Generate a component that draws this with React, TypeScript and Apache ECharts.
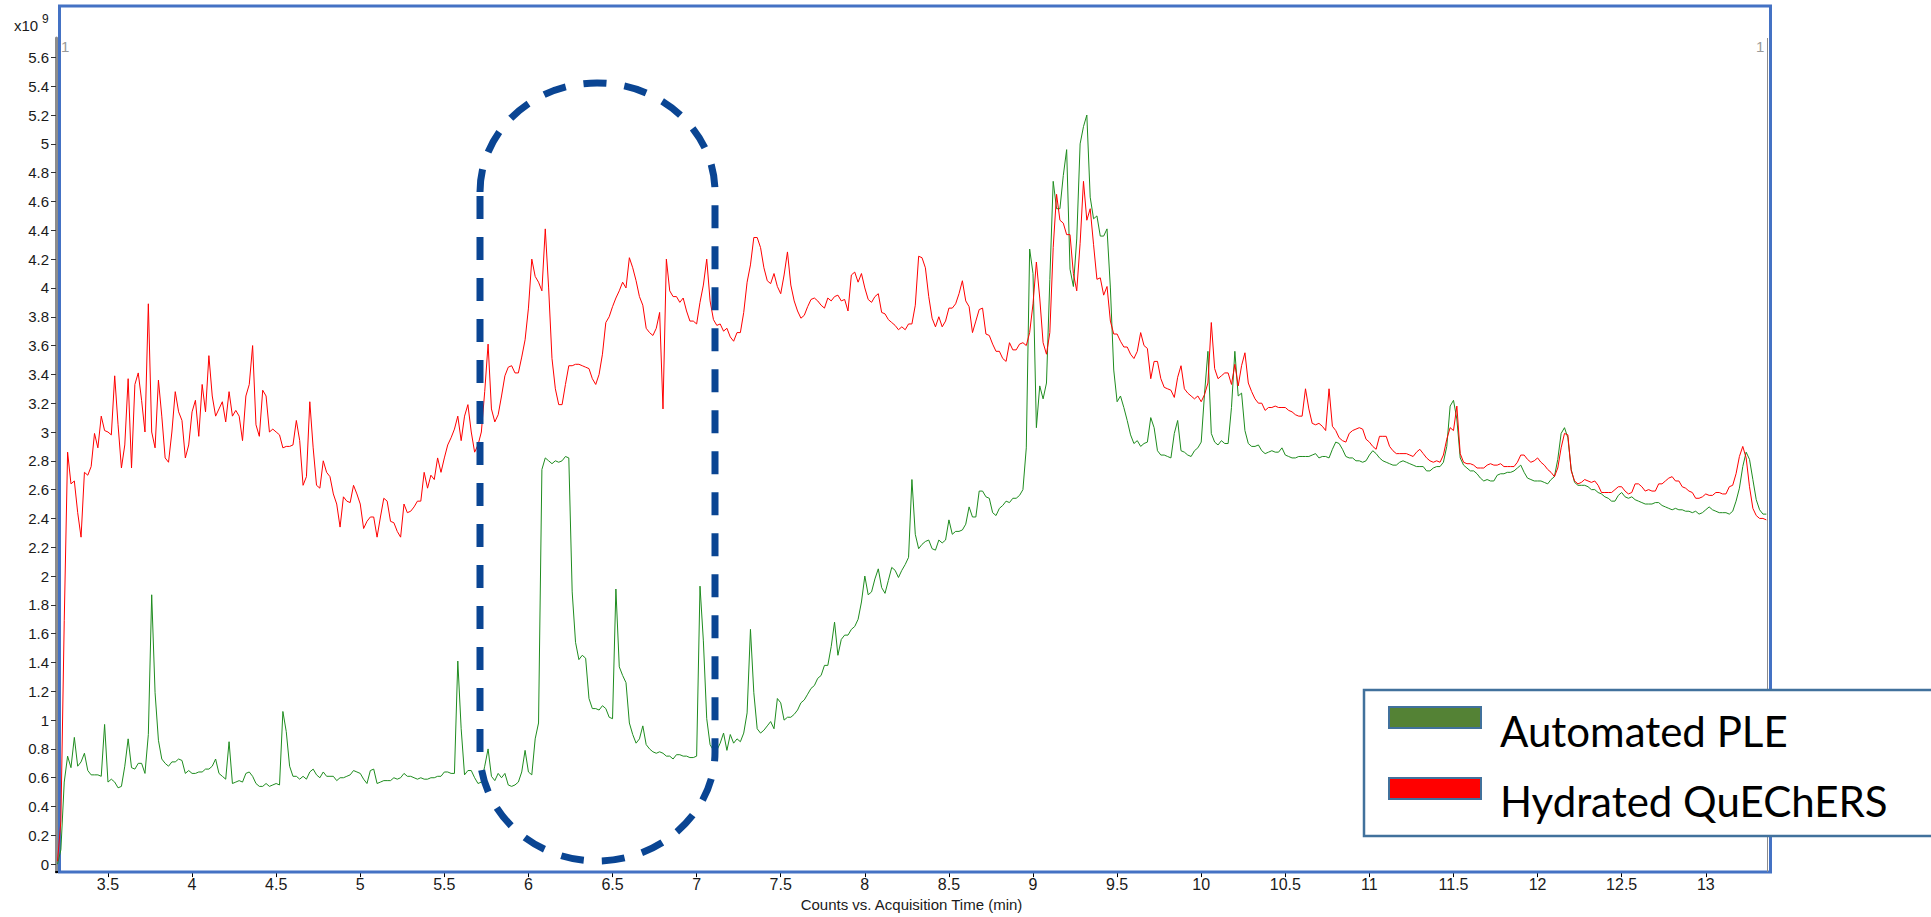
import React, { useEffect, useRef } from "react";
import * as echarts from "echarts";

// Sampling grid of the chromatogram (minutes)
const TIME_STEP = 0.02;
const SEGMENT_STARTS = [3.2, 5.8, 8.26, 10.82];

// Automated PLE (green), values in 10^9 counts
const pleA = [
  0.0, 0.1, 0.57, 0.75, 0.67, 0.88, 0.68, 0.71, 0.77, 0.65,
  0.62, 0.62, 0.62, 0.61, 0.97, 0.57, 0.59, 0.57, 0.53, 0.54,
  0.68, 0.87, 0.67, 0.66, 0.7, 0.7, 0.63, 0.9, 1.87, 1.19,
  0.86, 0.73, 0.7, 0.68, 0.71, 0.71, 0.73, 0.72, 0.63, 0.65,
  0.63, 0.63, 0.64, 0.64, 0.66, 0.66, 0.68, 0.73, 0.63, 0.61,
  0.59, 0.85, 0.56, 0.57, 0.58, 0.57, 0.63, 0.64, 0.61, 0.56,
  0.54, 0.54, 0.56, 0.54, 0.55, 0.56, 0.55, 1.06, 0.92, 0.68,
  0.61, 0.61, 0.59, 0.61, 0.59, 0.64, 0.66, 0.62, 0.6, 0.64,
  0.61, 0.61, 0.61, 0.58, 0.6, 0.6, 0.61, 0.62, 0.65, 0.64,
  0.63, 0.59, 0.56, 0.65, 0.66, 0.56, 0.57, 0.58, 0.58, 0.58,
  0.6, 0.59, 0.6, 0.63, 0.61, 0.61, 0.6, 0.59, 0.6, 0.59,
  0.59, 0.6, 0.6, 0.61, 0.61, 0.64, 0.64, 0.63, 0.63, 1.41,
  0.94, 0.62, 0.65, 0.65, 0.6, 0.56, 0.57, 0.68, 0.8, 0.61,
];
const pleB = [
  0.58, 0.63, 0.6, 0.63, 0.55, 0.54, 0.55, 0.57, 0.64, 0.79,
  0.64, 0.62, 0.87, 0.98, 2.74, 2.82, 2.8, 2.78, 2.8, 2.79,
  2.8, 2.83, 2.82, 1.89, 1.54, 1.42, 1.45, 1.43, 1.15, 1.08,
  1.08, 1.07, 1.1, 1.08, 1.02, 1.01, 1.91, 1.37, 1.31, 1.26,
  0.98, 0.9, 0.84, 0.87, 0.96, 0.83, 0.8, 0.78, 0.77, 0.78,
  0.77, 0.75, 0.75, 0.73, 0.76, 0.76, 0.75, 0.75, 0.74, 0.74,
  0.75, 1.93, 1.55, 1.01, 0.83, 0.79, 0.79, 0.84, 0.91, 0.79,
  0.9, 0.84, 0.87, 0.85, 0.91, 1.05, 1.63, 1.19, 0.94, 0.91,
  0.93, 0.96, 0.99, 0.94, 1.15, 1.12, 1.0, 1.02, 1.02, 1.04,
  1.07, 1.12, 1.14, 1.18, 1.22, 1.24, 1.29, 1.31, 1.38, 1.38,
  1.51, 1.68, 1.45, 1.56, 1.59, 1.59, 1.63, 1.65, 1.7, 1.82,
  2.0, 1.87, 1.89, 1.98, 2.05, 1.92, 1.88, 1.97, 2.06, 2.04,
  1.99, 2.04, 2.08,
];
const pleC = [
  2.13, 2.67, 2.29, 2.19, 2.22, 2.24, 2.25, 2.19, 2.18, 2.25,
  2.23, 2.25, 2.39, 2.29, 2.31, 2.31, 2.32, 2.36, 2.48, 2.41,
  2.41, 2.59, 2.59, 2.55, 2.54, 2.44, 2.42, 2.47, 2.49, 2.52,
  2.51, 2.54, 2.54, 2.56, 2.6, 2.89, 4.27, 4.1, 3.03, 3.32,
  3.23, 3.34, 4.06, 4.74, 4.55, 4.55, 4.78, 4.96, 4.13, 4.01,
  4.34, 5.0, 5.12, 5.2, 4.63, 4.48, 4.5, 4.36, 4.36, 4.41,
  4.0, 3.43, 3.21, 3.25, 3.17, 3.08, 2.98, 2.92, 2.94, 2.9,
  2.92, 2.93, 3.1, 3.03, 2.87, 2.84, 2.84, 2.83, 2.82, 2.99,
  3.08, 2.87, 2.86, 2.84, 2.83, 2.87, 2.89, 2.93, 3.27, 3.56,
  2.99, 2.93, 2.91, 2.94, 2.92, 2.92, 3.17, 3.56, 3.25, 3.27,
  3.01, 2.92, 2.9, 2.9, 2.91, 2.87, 2.85, 2.86, 2.87, 2.86,
  2.86, 2.89, 2.84, 2.83, 2.82, 2.82, 2.83, 2.83, 2.83, 2.83,
  2.84, 2.85, 2.82, 2.83, 2.83, 2.82, 2.88, 2.93,
];
const pleD = [
  2.92, 2.88, 2.83, 2.82, 2.82, 2.8, 2.8, 2.79, 2.8, 2.84,
  2.87, 2.85, 2.82, 2.8, 2.79, 2.78, 2.77, 2.77, 2.79, 2.8,
  2.79, 2.78, 2.77, 2.76, 2.76, 2.76, 2.73, 2.73, 2.75, 2.76,
  2.76, 2.79, 2.9, 3.18, 3.22, 3.09, 2.82, 2.77, 2.75, 2.73,
  2.73, 2.71, 2.68, 2.66, 2.67, 2.66, 2.66, 2.7, 2.71, 2.71,
  2.72, 2.72, 2.73, 2.75, 2.77, 2.72, 2.68, 2.67, 2.66, 2.66,
  2.66, 2.65, 2.64, 2.67, 2.69, 2.81, 2.99, 3.03, 2.96, 2.74,
  2.65, 2.63, 2.63, 2.63, 2.62, 2.6, 2.6, 2.58, 2.57, 2.55,
  2.54, 2.52, 2.52, 2.56, 2.58, 2.55, 2.54, 2.55, 2.53, 2.52,
  2.51, 2.5, 2.5, 2.5, 2.51, 2.51, 2.49, 2.48, 2.47, 2.46,
  2.47, 2.46, 2.46, 2.45, 2.45, 2.44, 2.45, 2.43, 2.44, 2.46,
  2.48, 2.46, 2.45, 2.44, 2.44, 2.44, 2.43, 2.45, 2.52, 2.61,
  2.76, 2.86, 2.81, 2.67, 2.53, 2.46, 2.43, 2.43,
];

// Hydrated QuEChERS (red), values in 10^9 counts
const quechersA = [
  0.02, 0.3, 1.69, 2.86, 2.64, 2.66, 2.44, 2.27, 2.72, 2.7,
  2.76, 2.99, 2.89, 3.11, 3.01, 3.0, 2.98, 3.39, 3.05, 2.75,
  2.91, 3.37, 2.75, 3.33, 3.41, 3.22, 3.0, 3.89, 3.0, 2.89,
  3.36, 3.11, 2.82, 2.79, 3.0, 3.28, 3.14, 3.08, 2.82, 2.91,
  3.14, 3.22, 2.97, 3.33, 3.14, 3.53, 3.25, 3.11, 3.16, 3.21,
  3.07, 3.28, 3.11, 3.15, 3.11, 2.94, 3.25, 3.33, 3.6, 3.05,
  2.97, 3.29, 3.25, 3.0, 3.02, 3.0, 2.98, 2.89, 2.9, 2.9,
  2.91, 3.08, 2.94, 2.63, 2.69, 3.21, 2.89, 2.63, 2.61, 2.8,
  2.72, 2.69, 2.57, 2.5, 2.34, 2.55, 2.52, 2.51, 2.63, 2.57,
  2.5, 2.33, 2.38, 2.41, 2.41, 2.27, 2.41, 2.54, 2.52, 2.38,
  2.37, 2.31, 2.27, 2.5, 2.44, 2.45, 2.48, 2.52, 2.52, 2.72,
  2.61, 2.7, 2.67, 2.82, 2.72, 2.82, 2.91, 2.96, 3.02, 3.11,
  2.94, 3.11, 3.19, 3.0, 2.86, 2.91, 3.0, 3.28, 3.61, 3.16,
];
const quechersB = [
  3.07, 3.12, 3.25, 3.39, 3.45, 3.46, 3.41, 3.41, 3.52, 3.64,
  3.86, 4.2, 4.08, 4.04, 3.98, 4.41, 4.0, 3.51, 3.3, 3.19,
  3.19, 3.33, 3.46, 3.46, 3.47, 3.47, 3.46, 3.45, 3.44, 3.37,
  3.33, 3.4, 3.54, 3.76, 3.8, 3.87, 3.93, 3.98, 4.04, 4.0,
  4.21, 4.14, 4.05, 3.94, 3.88, 3.72, 3.69, 3.67, 3.72, 3.83,
  3.16, 4.2, 3.98, 3.94, 3.94, 3.9, 3.93, 3.84, 3.77, 3.77,
  3.75, 3.9, 4.02, 4.2, 3.91, 3.78, 3.74, 3.75, 3.7, 3.72,
  3.66, 3.63, 3.69, 3.69, 3.83, 4.04, 4.16, 4.35, 4.35, 4.28,
  4.14, 4.05, 4.03, 4.1, 4.01, 3.96, 4.09, 4.25, 4.02, 3.91,
  3.84, 3.79, 3.81, 3.87, 3.92, 3.93, 3.91, 3.88, 3.86, 3.93,
  3.91, 3.94, 3.95, 3.91, 3.92, 3.84, 4.09, 4.11, 4.04, 4.1,
  4.0, 3.92, 3.9, 3.94, 3.96, 3.83, 3.82, 3.78, 3.76, 3.74,
  3.71, 3.73, 3.71,
];
const quechersC = [
  3.75, 3.75, 3.88, 4.22, 4.21, 4.14, 3.94, 3.79, 3.73, 3.8,
  3.73, 3.77, 3.86, 3.86, 3.89, 3.96, 4.05, 3.91, 3.87, 3.69,
  3.77, 3.85, 3.86, 3.68, 3.67, 3.61, 3.56, 3.56, 3.51, 3.49,
  3.62, 3.57, 3.57, 3.61, 3.62, 3.6, 3.69, 3.89, 4.18, 3.93,
  3.62, 3.54, 3.69, 4.28, 4.65, 4.47, 4.45, 4.37, 4.37, 4.1,
  3.98, 4.31, 4.74, 4.47, 4.55, 4.3, 4.06, 4.07, 3.95, 4.01,
  3.77, 3.68, 3.68, 3.63, 3.59, 3.59, 3.54, 3.51, 3.56, 3.69,
  3.6, 3.58, 3.37, 3.49, 3.49, 3.37, 3.31, 3.3, 3.29, 3.24,
  3.38, 3.46, 3.3, 3.27, 3.25, 3.23, 3.25, 3.21, 3.26, 3.34,
  3.76, 3.44, 3.37, 3.39, 3.41, 3.41, 3.33, 3.47, 3.32, 3.46,
  3.55, 3.34, 3.28, 3.23, 3.2, 3.2, 3.15, 3.17, 3.17, 3.18,
  3.17, 3.17, 3.17, 3.15, 3.14, 3.12, 3.11, 3.11, 3.3, 3.16,
  3.06, 3.05, 3.06, 3.04, 3.01, 3.3, 3.04, 3.01,
];
const quechersD = [
  2.96, 2.94, 2.93, 2.99, 3.01, 3.02, 3.03, 3.02, 2.95, 2.93,
  2.9, 2.88, 2.97, 2.97, 2.97, 2.9, 2.87, 2.85, 2.85, 2.85,
  2.85, 2.84, 2.83, 2.86, 2.88, 2.85, 2.82, 2.8, 2.79, 2.8,
  2.79, 2.84, 2.95, 3.03, 3.01, 3.18, 2.85, 2.79, 2.78, 2.78,
  2.77, 2.75, 2.75, 2.75, 2.77, 2.78, 2.77, 2.77, 2.78, 2.76,
  2.76, 2.76, 2.76, 2.79, 2.84, 2.84, 2.81, 2.79, 2.8, 2.82,
  2.79, 2.77, 2.74, 2.72, 2.69, 2.75, 2.89, 2.99, 2.98, 2.73,
  2.66, 2.64, 2.65, 2.67, 2.66, 2.65, 2.66, 2.63, 2.58, 2.58,
  2.58, 2.58, 2.6, 2.62, 2.62, 2.59, 2.57, 2.58, 2.64, 2.64,
  2.62, 2.59, 2.6, 2.59, 2.59, 2.64, 2.64, 2.66, 2.68, 2.69,
  2.66, 2.66, 2.62, 2.61, 2.59, 2.58, 2.54, 2.54, 2.55, 2.57,
  2.56, 2.56, 2.58, 2.58, 2.57, 2.57, 2.62, 2.63, 2.71, 2.83,
  2.9, 2.82, 2.62, 2.47, 2.42, 2.4, 2.4, 2.39,
];

const X_TICKS = [3.5, 4, 4.5, 5, 5.5, 6, 6.5, 7, 7.5, 8, 8.5, 9, 9.5, 10, 10.5, 11, 11.5, 12, 12.5, 13];
const Y_TICKS = [
  0, 0.2, 0.4, 0.6, 0.8, 1, 1.2, 1.4, 1.6, 1.8, 2, 2.2, 2.4, 2.6, 2.8, 3, 3.2, 3.4, 3.6, 3.8,
  4, 4.2, 4.4, 4.6, 4.8, 5, 5.2, 5.4, 5.6,
];

const SERIES_NAMES = ["Automated PLE", "Hydrated QuEChERS"];

const STADIUM_D =
  "M480,192 C480,132 532,83 597,83 C662,83 715,132 715,192 L715,752 C715,811 662,861 597,861 C532,861 480,811 480,752 Z";
echarts.graphic.registerShape("dashStadium", echarts.graphic.extendPath(STADIUM_D, {}));

function toPairs(segments: number[][]): number[][] {
  const out: number[][] = [];
  segments.forEach((seg, s) => {
    const start = SEGMENT_STARTS[s];
    seg.forEach((v, i) => {
      out.push([Math.round((start + i * TIME_STEP) * 1000) / 1000, v]);
    });
  });
  return out;
}

const AXIS_FONT = "'Liberation Sans', Arial, sans-serif";
const NARROW_FONT = "'Liberation Sans Narrow', 'Arial Narrow', 'Liberation Sans', sans-serif";

export default function App() {
  const ref = useRef<HTMLDivElement>(null);

  useEffect(() => {
    if (!ref.current) return;
    const chart = echarts.init(ref.current, null, { renderer: "svg" });
    const pleData = toPairs([pleA, pleB, pleC, pleD]);
    const quechersData = toPairs([quechersA, quechersB, quechersC, quechersD]);

    chart.setOption({
      animation: false,
      backgroundColor: "#ffffff",
      grid: { left: 56, right: 164, top: 38, bottom: 43, containLabel: false },
      xAxis: {
        type: "value",
        min: 3.191,
        max: 13.364,
        name: "Counts vs. Acquisition Time (min)",
        nameLocation: "middle",
        nameGap: 23,
        nameTextStyle: { fontFamily: NARROW_FONT, fontSize: 15, color: "#1a1a1a" },
        axisLine: { show: true, onZero: false, lineStyle: { color: "#000", width: 2 } },
        axisTick: { show: true, customValues: X_TICKS, length: 5, lineStyle: { color: "#000", width: 1 } },
        axisLabel: {
          customValues: X_TICKS,
          margin: 4,
          fontFamily: NARROW_FONT,
          fontSize: 16,
          color: "#1a1a1a",
          formatter: (v: number) => String(v),
        },
        splitLine: { show: false },
      },
      yAxis: {
        type: "value",
        min: -0.055,
        max: 5.735,
        axisLine: { show: true, onZero: false, lineStyle: { color: "#8c8c8c", width: 3 } },
        axisTick: { show: true, customValues: Y_TICKS, length: 5, lineStyle: { color: "#333", width: 1 } },
        axisLabel: {
          customValues: Y_TICKS,
          margin: 7,
          fontFamily: AXIS_FONT,
          fontSize: 15,
          color: "#1a1a1a",
          formatter: (v: number) => String(v),
        },
        splitLine: { show: false },
      },
      series: [
        {
          name: SERIES_NAMES[0],
          type: "line",
          data: pleData,
          showSymbol: false,
          symbol: "none",
          sampling: undefined,
          lineStyle: { color: "#1f8c1f", width: 1 },
          itemStyle: { color: "#1f8c1f" },
          z: 2,
        },
        {
          name: SERIES_NAMES[1],
          type: "line",
          data: quechersData,
          showSymbol: false,
          symbol: "none",
          lineStyle: { color: "#ff0000", width: 1 },
          itemStyle: { color: "#ff0000" },
          z: 3,
        },
      ],
      graphic: [
        {
          type: "rect",
          silent: true,
          z: 1,
          shape: { x: 59.5, y: 6, width: 1711, height: 866 },
          style: { fill: "none", stroke: "#4472c4", lineWidth: 3 },
        },
        {
          type: "line",
          silent: true,
          z: 1,
          shape: { x1: 1767.5, y1: 38, x2: 1767.5, y2: 872 },
          style: { stroke: "#8c8c8c", lineWidth: 1 },
        },
        {
          type: "text",
          x: 14,
          y: 25,
          style: { text: "x10", fontSize: 15, fontFamily: AXIS_FONT, fill: "#1a1a1a", verticalAlign: "middle" },
        },
        {
          type: "text",
          x: 42,
          y: 19,
          style: { text: "9", fontSize: 12, fontFamily: AXIS_FONT, fill: "#1a1a1a", verticalAlign: "middle" },
        },
        {
          type: "text",
          x: 61,
          y: 46,
          style: { text: "1", fontSize: 15, fontFamily: AXIS_FONT, fill: "#9a9a9a", verticalAlign: "middle" },
        },
        {
          type: "text",
          x: 1756,
          y: 46,
          style: { text: "1", fontSize: 15, fontFamily: AXIS_FONT, fill: "#9a9a9a", verticalAlign: "middle" },
        },
        {
          type: "dashStadium",
          silent: true,
          z: 10,
          x: 0,
          y: 0,
          style: { fill: "none", stroke: "#0a4593", lineWidth: 7, lineDash: [23, 18] },
        },
        {
          type: "rect",
          silent: true,
          z: 20,
          shape: { x: 1364, y: 690, width: 620, height: 146 },
          style: { fill: "#ffffff", stroke: "#41719c", lineWidth: 2.5 },
        },
        {
          type: "rect",
          silent: true,
          z: 21,
          shape: { x: 1389, y: 707, width: 92, height: 21 },
          style: { fill: "#548235", stroke: "#41719c", lineWidth: 2 },
        },
        {
          type: "rect",
          silent: true,
          z: 21,
          shape: { x: 1389, y: 778, width: 92, height: 21 },
          style: { fill: "#ff0000", stroke: "#41719c", lineWidth: 2 },
        },
        {
          type: "text",
          z: 21,
          x: 1500,
          y: 731,
          style: { text: SERIES_NAMES[0], fontSize: 42, fontFamily: "Lato, 'Open Sans', sans-serif", fill: "#000", verticalAlign: "middle" },
        },
        {
          type: "text",
          z: 21,
          x: 1500,
          y: 801,
          style: { text: SERIES_NAMES[1], fontSize: 42, fontFamily: "Lato, 'Open Sans', sans-serif", fill: "#000", verticalAlign: "middle" },
        },
      ],
    });

    return () => chart.dispose();
  }, []);

  return (
    <div
      ref={ref}
      style={{ position: "fixed", left: 0, top: 0, width: 1931, height: 917, background: "#fff" }}
    />
  );
}
